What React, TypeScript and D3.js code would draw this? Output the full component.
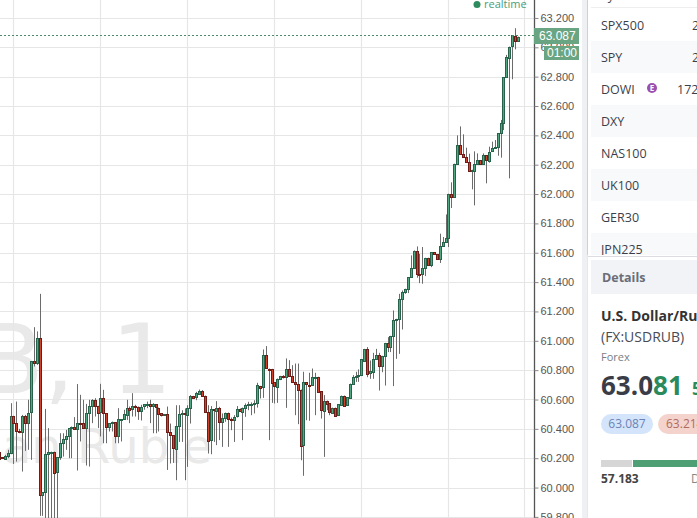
import React, { useEffect, useRef } from 'react';
import * as d3 from 'd3';

// candles, oldest first, ten per line
const opens = [
  60.245, 60.205, 60.195, 60.211, 60.234, 60.489, 60.439, 60.386, 60.382, 60.489,
  60.443, 60.511, 60.864, 60.848, 61.018, 59.948, 59.968, 60.227, 60.239, 60.245,
  60.105, 60.205, 60.302, 60.325, 60.348, 60.405, 60.411, 60.398, 60.439, 60.439,
  60.405, 60.507, 60.557, 60.595, 60.557, 60.511, 60.609, 60.507, 60.411, 60.439,
  60.445, 60.350, 60.461, 60.464, 60.498, 60.545, 60.534, 60.557, 60.552, 60.525,
  60.552, 60.566, 60.568, 60.557, 60.568, 60.545, 60.507, 60.493, 60.500, 60.377,
  60.355, 60.266, 60.420, 60.500, 60.505, 60.495, 60.543, 60.625, 60.611, 60.641,
  60.661, 60.627, 60.516, 60.320, 60.532, 60.527, 60.545, 60.448, 60.477, 60.511,
  60.470, 60.464, 60.482, 60.532, 60.520, 60.545, 60.564, 60.568, 60.570, 60.573,
  60.693, 60.682, 60.900, 60.811, 60.809, 60.716, 60.686, 60.743, 60.761, 60.757,
  60.811, 60.761, 60.720, 60.707, 60.668, 60.286, 60.716, 60.702, 60.698, 60.752,
  60.755, 60.655, 60.523, 60.593, 60.573, 60.511, 60.545, 60.491, 60.568, 60.627,
  60.557, 60.614, 60.709, 60.755, 60.759, 60.764, 60.866, 60.945, 60.775, 60.786,
  60.877, 60.905, 60.827, 60.898, 60.986, 60.957, 61.034, 61.143, 61.148, 61.286,
  61.334, 61.355, 61.434, 61.498, 61.614, 61.457, 61.457, 61.498, 61.566, 61.518,
  61.605, 61.591, 61.559, 61.648, 61.675, 61.702, 62.002, 61.980, 62.207, 62.336,
  62.275, 62.252, 62.220, 62.159, 62.161, 62.207, 62.232, 62.205, 62.264, 62.230,
  62.289, 62.311, 62.318, 62.414, 62.482, 62.795, 62.932, 63.005, 63.077, 63.045,
];
const closes = [
  60.195, 60.195, 60.216, 60.234, 60.489, 60.439, 60.382, 60.380, 60.489, 60.443,
  60.511, 60.859, 60.848, 61.018, 59.948, 59.968, 60.227, 60.241, 60.245, 60.105,
  60.205, 60.302, 60.330, 60.348, 60.405, 60.411, 60.398, 60.439, 60.434, 60.405,
  60.507, 60.557, 60.595, 60.557, 60.511, 60.609, 60.507, 60.411, 60.439, 60.445,
  60.350, 60.464, 60.466, 60.498, 60.545, 60.534, 60.557, 60.552, 60.525, 60.552,
  60.566, 60.568, 60.557, 60.568, 60.545, 60.507, 60.493, 60.498, 60.377, 60.357,
  60.266, 60.420, 60.500, 60.505, 60.495, 60.543, 60.625, 60.611, 60.641, 60.661,
  60.627, 60.518, 60.320, 60.532, 60.525, 60.545, 60.448, 60.477, 60.511, 60.468,
  60.464, 60.482, 60.532, 60.520, 60.545, 60.564, 60.568, 60.570, 60.573, 60.698,
  60.682, 60.900, 60.811, 60.807, 60.716, 60.686, 60.743, 60.761, 60.757, 60.811,
  60.761, 60.720, 60.707, 60.668, 60.286, 60.716, 60.702, 60.700, 60.752, 60.755,
  60.655, 60.523, 60.593, 60.573, 60.511, 60.545, 60.491, 60.568, 60.627, 60.557,
  60.614, 60.709, 60.755, 60.761, 60.764, 60.873, 60.945, 60.775, 60.791, 60.877,
  60.905, 60.827, 60.898, 60.986, 60.957, 61.034, 61.143, 61.150, 61.286, 61.334,
  61.355, 61.434, 61.498, 61.614, 61.457, 61.455, 61.498, 61.566, 61.518, 61.605,
  61.591, 61.559, 61.648, 61.675, 61.702, 62.002, 61.980, 62.207, 62.336, 62.275,
  62.252, 62.220, 62.159, 62.166, 62.207, 62.234, 62.205, 62.264, 62.230, 62.289,
  62.311, 62.318, 62.414, 62.482, 62.795, 62.932, 63.005, 63.082, 63.045, 63.073,
];
const highs = [
  60.245, 60.205, 60.223, 60.257, 60.575, 60.489, 60.586, 60.400, 60.495, 60.495,
  60.598, 60.859, 61.093, 61.064, 61.320, 59.968, 60.536, 60.405, 60.245, 60.245,
  60.205, 60.370, 60.370, 60.393, 60.405, 60.416, 60.480, 60.705, 60.632, 60.598,
  60.570, 60.598, 60.602, 60.609, 60.557, 60.707, 60.666, 60.507, 60.439, 60.450,
  60.445, 60.541, 60.466, 60.530, 60.598, 60.552, 60.643, 60.564, 60.552, 60.564,
  60.568, 60.586, 60.598, 60.575, 60.568, 60.545, 60.507, 60.498, 60.552, 60.436,
  60.355, 60.561, 60.561, 60.527, 60.539, 60.561, 60.630, 60.625, 60.652, 60.668,
  60.664, 60.627, 60.561, 60.555, 60.532, 60.589, 60.550, 60.505, 60.511, 60.511,
  60.477, 60.493, 60.555, 60.539, 60.545, 60.573, 60.584, 60.580, 60.595, 60.714,
  60.693, 60.941, 60.964, 60.811, 60.809, 60.716, 60.743, 60.761, 60.766, 60.880,
  60.868, 60.834, 60.845, 60.845, 60.668, 60.789, 60.716, 60.782, 60.811, 60.782,
  60.755, 60.655, 60.630, 60.593, 60.573, 60.545, 60.545, 60.568, 60.627, 60.627,
  60.614, 60.709, 60.766, 60.789, 60.805, 60.873, 60.945, 60.957, 60.866, 60.918,
  60.945, 60.918, 60.898, 60.986, 61.025, 61.034, 61.207, 61.150, 61.320, 61.343,
  61.355, 61.434, 61.582, 61.616, 61.643, 61.593, 61.639, 61.566, 61.566, 61.605,
  61.605, 61.591, 61.730, 61.707, 61.861, 62.002, 62.080, 62.207, 62.400, 62.461,
  62.407, 62.316, 62.275, 62.166, 62.291, 62.277, 62.232, 62.277, 62.264, 62.323,
  62.357, 62.368, 62.414, 62.505, 62.795, 62.948, 63.005, 63.082, 63.130, 63.073,
];
const lows = [
  60.195, 60.195, 60.189, 60.200, 60.227, 60.161, 60.177, 60.370, 60.109, 60.250,
  60.257, 60.189, 60.825, 60.836, 59.807, 59.807, 59.734, 59.711, 59.700, 59.700,
  59.757, 60.189, 60.211, 60.257, 60.200, 60.200, 60.393, 60.116, 60.314, 60.405,
  60.150, 60.143, 60.439, 60.484, 60.405, 60.348, 60.302, 60.302, 60.382, 60.382,
  60.302, 60.302, 60.314, 60.461, 60.461, 60.439, 60.484, 60.484, 60.461, 60.457,
  60.530, 60.541, 60.439, 60.370, 60.370, 60.382, 60.484, 60.493, 60.120, 60.164,
  60.168, 60.050, 60.311, 60.311, 60.050, 60.141, 60.436, 60.607, 60.595, 60.636,
  60.618, 60.509, 60.232, 60.227, 60.311, 60.289, 60.323, 60.277, 60.448, 60.277,
  60.391, 60.311, 60.477, 60.516, 60.323, 60.482, 60.527, 60.493, 60.505, 60.545,
  60.607, 60.611, 60.811, 60.323, 60.577, 60.573, 60.577, 60.732, 60.743, 60.543,
  60.761, 60.720, 60.493, 60.432, 60.186, 60.080, 60.459, 60.455, 60.698, 60.493,
  60.652, 60.470, 60.209, 60.527, 60.493, 60.505, 60.491, 60.491, 60.568, 60.557,
  60.557, 60.614, 60.709, 60.720, 60.720, 60.764, 60.866, 60.752, 60.741, 60.741,
  60.877, 60.661, 60.786, 60.695, 60.923, 60.923, 60.691, 60.877, 60.911, 61.077,
  61.320, 61.325, 61.434, 61.498, 61.430, 61.393, 61.389, 61.441, 61.518, 61.502,
  61.591, 61.559, 61.530, 61.643, 61.675, 61.639, 61.905, 61.980, 62.207, 62.275,
  62.252, 62.220, 62.159, 62.032, 61.923, 62.207, 62.205, 62.210, 62.073, 62.214,
  62.289, 62.311, 62.261, 62.248, 62.436, 62.795, 62.107, 62.782, 62.986, 63.045,
];

const priceTicks = [59.8, 60, 60.2, 60.4, 60.6, 60.8, 61, 61.2, 61.4, 61.6, 61.8, 62, 62.2, 62.4, 62.6, 62.8, 63, 63.2];
const timeGrid = [5, 35, 65, 95, 125, 155, 181];
const lastPrice = 63.087;

const symbols = ['SPX500', 'SPY', 'DOWI', 'DXY', 'NAS100', 'UK100', 'GER30', 'JPN225'];
const symbolValues = ['2', '2', '172', '', '', '', '', ''];

const sans = '"Open Sans", sans-serif';
const axisFont = '"Liberation Sans", Arial, sans-serif';

export default function App() {
  const ref = useRef<SVGSVGElement>(null);

  useEffect(() => {
    const svg = d3.select(ref.current);
    svg.selectAll('*').remove();

    const axisX = 534.5;
    const x = d3.scaleLinear().domain([5, 185]).range([13.4, 535.4]);
    const y = d3.scaleLinear().domain([59.8, 63.2]).range([516.9, 17.95]);

    // watermark
    const mark = svg.append('g').attr('fill', '#e9e9e9').attr('font-family', '"DejaVu Sans"').attr('text-anchor', 'end');
    mark.append('text').attr('x', 172).attr('y', 393).attr('font-size', 96).attr('word-spacing', 6).text('USDRUB, 1');
    mark.append('text').attr('x', 212).attr('y', 463).attr('font-size', 48).text('U.S. Dollar/Russian Ruble');

    // grid
    svg.append('g').selectAll('line').data(priceTicks).enter().append('line')
      .attr('x1', 0).attr('x2', axisX)
      .attr('y1', d => Math.round(y(d)) + 0.5).attr('y2', d => Math.round(y(d)) + 0.5)
      .attr('stroke', '#e6e6e6').attr('stroke-width', 1.2);
    svg.append('g').selectAll('line').data(timeGrid).enter().append('line')
      .attr('x1', d => Math.round(x(d)) + 0.5).attr('x2', d => Math.round(x(d)) + 0.5)
      .attr('y1', 0).attr('y2', 518)
      .attr('stroke', '#e6e6e6').attr('stroke-width', 1.2);

    // wicks then bodies
    const idx = d3.range(highs.length);
    const px = (i: number) => Math.round(x(i)) + 0.5;
    svg.append('g').selectAll('line').data(idx).enter().append('line')
      .attr('x1', px).attr('x2', px)
      .attr('y1', i => y(highs[i])).attr('y2', i => y(lows[i]))
      .attr('stroke', '#6b6b6b').attr('stroke-width', 1);
    svg.append('g').selectAll('rect').data(idx).enter().append('rect')
      .attr('x', i => px(i) - 1)
      .attr('width', 2)
      .attr('y', i => Math.round(y(Math.max(opens[i], closes[i]))) + 0.5)
      .attr('height', i => Math.max(1, Math.round(Math.abs(y(opens[i]) - y(closes[i])))))
      .attr('fill', i => (closes[i] >= opens[i] ? '#4fa880' : '#d0402c'))
      .attr('stroke', i => (closes[i] >= opens[i] ? '#27634a' : '#701c16'))
      .attr('stroke-width', 1);

    // price axis
    const axis = d3.axisRight(y).tickValues(priceTicks).tickSize(4).tickPadding(2).tickFormat(d3.format('.3f') as any);
    const ag = svg.append('g').attr('transform', `translate(${axisX},0)`).call(axis as any);
    ag.select('.domain').attr('stroke', '#555').attr('stroke-width', 1.3).attr('d', 'M0,0V518');
    ag.selectAll('.tick line').attr('stroke', '#888');
    ag.selectAll('.tick text').attr('fill', '#555').attr('font-size', 11).attr('font-family', axisFont);

    // last price line and tags
    svg.append('line').attr('x1', 0).attr('x2', axisX)
      .attr('y1', Math.round(y(lastPrice)) + 0.5).attr('y2', Math.round(y(lastPrice)) + 0.5)
      .attr('stroke', '#4f8a6a').attr('stroke-dasharray', '2,2');
    svg.append('rect').attr('x', 534).attr('y', 28).attr('width', 45).attr('height', 16).attr('fill', '#6aa583');
    svg.append('text').attr('x', 539).attr('y', 40).attr('fill', '#fff').attr('font-size', 12).attr('font-family', axisFont).text(d3.format('.3f')(lastPrice));
    svg.append('rect').attr('x', 544).attr('y', 46).attr('width', 35).attr('height', 14).attr('fill', '#6aa583');
    svg.append('text').attr('x', 547).attr('y', 57).attr('fill', '#fff').attr('font-size', 12).attr('font-family', axisFont).text('01:00');

    // realtime flag
    svg.append('circle').attr('cx', 477).attr('cy', 4.5).attr('r', 3.5).attr('fill', '#2e8b5e');
    svg.append('text').attr('x', 484).attr('y', 8).attr('font-size', 11).attr('fill', '#45a07a').attr('font-family', sans).text('realtime');

    // side panel
    svg.append('rect').attr('x', 582).attr('y', 0).attr('width', 5.5).attr('height', 518).attr('fill', '#eff0f4');
    svg.append('line').attr('x1', 587.5).attr('x2', 587.5).attr('y1', 0).attr('y2', 518).attr('stroke', '#cfd0d4');
    svg.append('text').attr('x', 601).attr('y', 0).attr('font-size', 12.5).attr('fill', '#444').attr('font-family', sans).text('Symbol');
    svg.append('line').attr('x1', 591).attr('x2', 697).attr('y1', 7.5).attr('y2', 7.5).attr('stroke', '#eee');

    const rowY = d3.scaleBand<string>().domain(symbols).range([9, 265]);
    const rows = svg.append('g').selectAll('g').data(symbols).enter().append('g')
      .attr('transform', d => `translate(0,${rowY(d)})`);
    rows.filter((_, i) => i % 2 === 1).append('rect')
      .attr('x', 591).attr('width', 106).attr('height', rowY.bandwidth()).attr('fill', '#f8f9fb');
    rows.append('text').attr('x', 601).attr('y', 21).attr('font-size', 12.5).attr('fill', '#3c3f4a').attr('font-family', sans).text(d => d);
    rows.append('text').attr('x', 690).attr('y', 21).attr('font-size', 12.5).attr('fill', '#3c3f4a').attr('font-family', sans)
      .attr('dx', (_, i) => (symbolValues[i].length > 1 ? -13 : 2))
      .text((_, i) => symbolValues[i]);
    svg.append('circle').attr('cx', 652).attr('cy', 88).attr('r', 5).attr('fill', '#9c4fae');
    svg.append('text').attr('x', 652).attr('y', 91).attr('text-anchor', 'middle').attr('font-size', 8).attr('font-weight', 700)
      .attr('fill', '#fff').attr('font-family', sans).text('E');

    svg.append('rect').attr('x', 587.5).attr('y', 255).attr('width', 110).attr('height', 263).attr('fill', '#fff');
    svg.append('line').attr('x1', 588).attr('x2', 697).attr('y1', 256.5).attr('y2', 256.5).attr('stroke', '#dcdde1');
    svg.append('rect').attr('x', 591).attr('y', 260).attr('width', 106).attr('height', 34).attr('fill', '#f1f3f6');
    svg.append('text').attr('x', 602).attr('y', 282).attr('font-size', 12.5).attr('font-weight', 700).attr('fill', '#6a6d78').attr('font-family', sans).text('Details');

    svg.append('text').attr('x', 601).attr('y', 321).attr('font-size', 14).attr('font-weight', 700).attr('fill', '#333').attr('font-family', sans).text('U.S. Dollar/Russian Ruble');
    svg.append('text').attr('x', 601).attr('y', 342).attr('font-size', 14).attr('fill', '#484b55').attr('font-family', sans).text('(FX:USDRUB)');
    svg.append('text').attr('x', 601).attr('y', 361).attr('font-size', 11).attr('fill', '#7b7d85').attr('font-family', sans).text('Forex');

    const big = svg.append('text').attr('x', 601).attr('y', 395).attr('font-size', 26).attr('font-weight', 700).attr('font-family', sans);
    big.append('tspan').attr('fill', '#3a3d48').text('63.0');
    big.append('tspan').attr('fill', '#2a8a5c').text('81');
    svg.append('text').attr('x', 692).attr('y', 395).attr('font-size', 17).attr('font-weight', 700).attr('fill', '#2a8a5c').attr('font-family', sans).text('5.898');

    svg.append('rect').attr('x', 601).attr('y', 414).attr('width', 52).attr('height', 20).attr('rx', 10).attr('fill', '#d4e5fb');
    svg.append('text').attr('x', 627).attr('y', 428).attr('text-anchor', 'middle').attr('font-size', 12).attr('fill', '#6b83b5').attr('font-family', sans).text('63.087');
    svg.append('rect').attr('x', 658).attr('y', 414).attr('width', 60).attr('height', 20).attr('rx', 10).attr('fill', '#f4d3cd');
    svg.append('text').attr('x', 666).attr('y', 428).attr('font-size', 12).attr('fill', '#b06a60').attr('font-family', sans).text('63.214');

    svg.append('rect').attr('x', 601).attr('y', 460).attr('width', 31).attr('height', 7).attr('fill', '#d6d6d6');
    svg.append('rect').attr('x', 633).attr('y', 460).attr('width', 64).attr('height', 7).attr('fill', '#4f9f74');
    svg.append('text').attr('x', 601).attr('y', 483).attr('font-size', 12).attr('font-weight', 700).attr('fill', '#444').attr('font-family', sans).text('57.183');
    svg.append('text').attr('x', 691).attr('y', 483).attr('font-size', 12).attr('fill', '#888').attr('font-family', sans).text('Day');
  }, []);

  return <svg ref={ref} width={697} height={518} style={{ position: 'absolute', left: 0, top: 0, background: '#fff' }} />;
}
